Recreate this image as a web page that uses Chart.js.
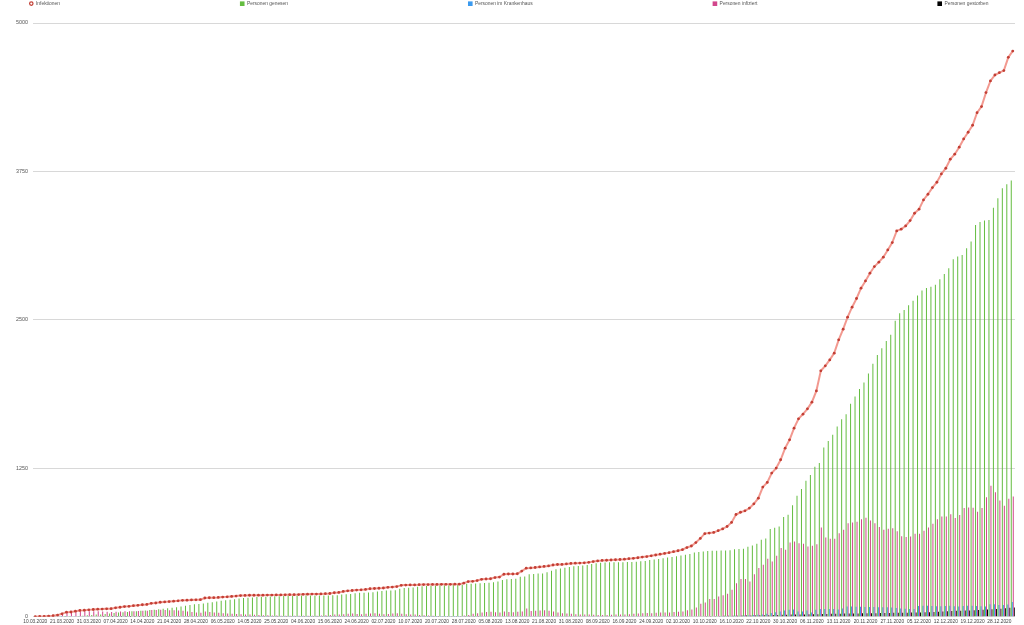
<!DOCTYPE html>
<html>
<head>
<meta charset="utf-8">
<title>Infektionen 2020</title>
<script src="https://cdn.jsdelivr.net/npm/chart.js@4.4.1/dist/chart.umd.min.js"></script>
<style>
    html, body { margin: 0; padding: 0; background: #fff; }
    #wrap { position: relative; width: 1024px; height: 625px; }
</style>
</head>
<body>
<div id="wrap"><canvas id="infektionChart"></canvas></div>
<script>
// Meldetage (ohne Jahr)
const dates = [
    '10.03','12.03','14.03','16.03','18.03','19.03',
    '21.03','23.03','25.03','26.03','27.03','30.03',
    '31.03','01.04','02.04','03.04','04.04','06.04',
    '07.04','08.04','09.04','10.04','11.04','13.04',
    '14.04','15.04','16.04','17.04','18.04','20.04',
    '21.04','22.04','23.04','24.04','25.04','27.04',
    '28.04','29.04','30.04','02.05','04.05','05.05',
    '06.05','07.05','08.05','09.05','11.05','12.05',
    '14.05','15.05','18.05','19.05','20.05','22.05',
    '25.05','26.05','27.05','28.05','29.05','02.06',
    '04.06','05.06','08.06','09.06','10.06','12.06',
    '15.06','16.06','17.06','18.06','19.06','22.06',
    '24.06','25.06','26.06','29.06','30.06','01.07',
    '02.07','03.07','06.07','07.07','08.07','09.07',
    '10.07','13.07','14.07','15.07','16.07','17.07',
    '20.07','21.07','22.07','23.07','24.07','27.07',
    '28.07','29.07','30.07','31.07','03.08','04.08',
    '05.08','06.08','07.08','10.08','11.08','12.08',
    '13.08','14.08','17.08','18.08','19.08','20.08',
    '21.08','24.08','25.08','26.08','27.08','28.08',
    '31.08','01.09','02.09','03.09','04.09','07.09',
    '08.09','09.09','10.09','11.09','14.09','15.09',
    '16.09','17.09','18.09','21.09','22.09','23.09',
    '24.09','25.09','28.09','29.09','30.09','01.10',
    '02.10','05.10','06.10','07.10','08.10','09.10',
    '10.10','11.10','12.10','13.10','14.10','15.10',
    '16.10','17.10','18.10','19.10','20.10','21.10',
    '22.10','23.10','26.10','27.10','28.10','29.10',
    '30.10','31.10','02.11','03.11','04.11','05.11',
    '06.11','07.11','09.11','10.11','11.11','12.11',
    '13.11','14.11','16.11','17.11','18.11','19.11',
    '20.11','21.11','23.11','24.11','25.11','26.11',
    '27.11','28.11','30.11','01.12','02.12','03.12',
    '05.12','07.12','08.12','09.12','10.12','11.12',
    '12.12','14.12','15.12','16.12','17.12','18.12',
    '19.12','21.12','22.12','23.12','24.12','26.12',
    '28.12','29.12','30.12','31.12'
];

const infektionen = [
    1,2,3,6,9,14,25,39,40,47,
    53,55,58,61,64,65,67,68,75,80,
    86,88,93,96,101,104,113,116,122,125,
    128,131,134,138,140,142,143,144,158,160,
    161,163,166,168,171,174,178,180,181,181,
    182,182,183,183,184,184,185,186,186,187,
    189,190,191,191,192,194,196,202,205,213,
    218,221,225,227,230,236,238,240,242,248,
    250,254,265,267,268,268,270,271,271,272,
    272,273,273,273,274,274,283,296,298,305,
    315,318,320,330,334,358,360,360,362,385,
    409,411,415,420,424,428,436,440,441,445,
    449,451,452,454,458,465,470,474,476,478,
    480,482,485,489,492,497,503,507,513,520,
    527,533,540,548,556,565,583,596,625,660,
    700,705,710,725,740,760,794,861,880,892,
    915,951,999,1092,1131,1210,1252,1322,1420,1490,
    1588,1667,1706,1751,1807,1902,2071,2113,2163,2220,
    2332,2422,2523,2607,2680,2767,2828,2893,2949,2986,
    3028,3089,3151,3249,3264,3291,3336,3398,3432,3510,
    3558,3614,3659,3729,3777,3853,3895,3954,4024,4080,
    4139,4245,4296,4414,4512,4562,4582,4599,4711,4764
];

const genesen = [
    0,0,0,0,0,0,0,1,2,5,
    7,9,12,15,18,20,24,27,32,35,
    39,41,46,47,50,53,56,59,63,68,
    71,75,80,86,93,100,105,108,112,118,
    123,128,134,138,143,148,154,158,161,163,
    166,168,169,171,172,173,175,176,176,177,
    178,179,180,180,180,180,180,181,182,188,
    190,191,198,202,203,205,207,212,217,221,
    222,224,236,242,245,247,252,256,258,261,
    263,265,265,266,267,267,270,278,278,280,
    282,284,286,290,296,309,316,318,320,336,
    340,359,361,364,365,374,387,401,407,413,
    420,425,428,432,436,445,451,455,457,458,
    458,459,460,462,462,464,468,470,478,482,
    487,492,500,503,509,515,523,529,542,546,
    550,553,555,556,557,558,560,569,570,572,
    590,600,615,648,660,740,750,760,840,860,
    940,1020,1075,1145,1193,1263,1294,1425,1481,1532,
    1602,1664,1706,1793,1855,1917,1972,2048,2130,2205,
    2262,2323,2374,2492,2556,2584,2623,2662,2705,2747,
    2769,2780,2795,2843,2887,2935,3011,3033,3047,3104,
    3159,3300,3325,3336,3342,3445,3524,3608,3642,3673
];

const krankenhaus = [
    0,0,0,0,0,0,1,1,2,2,
    2,3,3,4,4,5,5,5,6,6,
    6,6,5,5,5,5,4,4,4,4,
    3,3,3,3,3,2,2,2,2,2,
    2,2,2,2,2,2,2,1,1,1,
    1,1,1,1,1,1,1,1,1,1,
    1,1,1,1,1,1,1,1,1,1,
    1,1,1,1,1,1,1,1,1,1,
    1,1,1,1,1,1,1,1,1,1,
    1,1,1,1,1,1,2,2,2,2,
    2,2,2,2,2,2,2,2,2,2,
    2,2,2,2,2,2,2,2,2,2,
    2,2,2,2,2,2,2,2,2,2,
    2,2,2,2,2,3,3,3,3,3,
    3,3,3,3,3,3,3,4,4,4,
    4,4,5,5,6,6,7,8,9,10,
    12,15,17,20,25,31,38,45,52,58,
    62,45,45,53,36,60,65,65,66,65,
    62,70,87,86,85,84,82,82,82,80,
    80,80,78,73,70,68,66,65,90,92,
    92,90,88,88,90,92,88,87,90,92,
    92,90,88,87,105,106,100,98,104,125
];

const infiziert = [
    1,2,3,6,9,14,25,38,38,42,
    46,46,46,46,46,44,42,40,42,44,
    46,46,46,48,50,50,56,56,58,56,
    55,54,52,50,45,40,36,34,44,40,
    36,33,30,28,26,24,22,20,18,16,
    14,12,12,10,10,9,8,8,8,8,
    8,8,8,8,10,12,14,18,20,22,
    25,28,24,22,26,28,30,25,22,24,
    28,30,26,22,20,18,15,12,10,8,
    6,5,5,4,4,5,10,15,25,30,
    35,40,42,38,36,45,40,38,42,45,
    70,48,50,52,55,50,45,35,30,28,
    25,22,20,18,18,16,15,15,15,16,
    18,18,20,22,25,28,30,32,30,33,
    35,36,35,40,42,45,55,62,78,109,
    120,149,149,171,182,194,227,283,317,317,
    297,359,410,438,488,466,513,578,564,625,
    634,620,614,592,598,610,752,668,657,657,
    704,732,788,794,800,822,833,811,788,755,
    732,741,746,721,679,671,676,699,699,724,
    752,783,822,844,844,864,831,856,915,920,
    917,884,915,1007,1103,1049,979,934,993,1013
];

const gestorben = [
    0,0,0,0,0,0,0,0,0,0,
    0,0,0,0,0,1,1,1,1,1,
    1,1,1,1,1,1,1,1,1,1,
    2,2,2,2,2,2,2,2,2,2,
    2,2,2,2,2,2,2,2,2,2,
    2,2,2,2,2,2,2,2,2,2,
    3,3,3,3,3,3,3,3,3,3,
    3,3,3,3,3,3,3,3,3,3,
    3,3,3,3,3,3,3,3,3,3,
    3,3,3,3,3,3,3,3,3,3,
    4,4,4,4,4,4,4,4,4,4,
    4,4,4,4,4,4,4,4,4,4,
    4,4,4,4,4,4,4,4,4,4,
    5,5,5,5,5,5,5,5,5,5,
    5,5,5,5,5,5,5,5,5,5,
    6,6,7,7,8,8,9,9,10,10,
    11,11,12,12,13,14,15,16,17,18,
    18,19,20,21,22,22,23,24,25,26,
    26,27,27,28,28,29,29,30,30,31,
    31,32,33,33,34,34,35,36,36,37,
    38,40,42,44,46,48,50,51,52,53,
    55,57,59,61,63,65,68,71,75,78
];

const yTicks = [0, 1250, 2500, 3750, 5000];
const labelEvery = 6;

const labels = dates.map(d => d + '.2020');
const fontFamily = '"Liberation Sans", Arial, sans-serif';

// Legende oben, weit auseinandergezogen
const topLegend = {
    id: 'topLegend',
    afterDraw(chart) {
        const ctx = chart.ctx;
        ctx.save();
        ctx.font = '4.9px ' + fontFamily;
        ctx.textBaseline = 'middle';
        ctx.textAlign = 'left';
        let x = 29;
        const y = 3.6;
        chart.data.datasets.forEach(ds => {
            if (ds.type === 'line') {
                ctx.beginPath();
                ctx.arc(x + 2.3, y, 1.7, 0, Math.PI * 2);
                ctx.fillStyle = '#fff';
                ctx.fill();
                ctx.lineWidth = 1.2;
                ctx.strokeStyle = ds.pointBackgroundColor;
                ctx.stroke();
            } else {
                ctx.fillStyle = ds.backgroundColor;
                ctx.fillRect(x, y - 2.2, 4.6, 4.6);
            }
            ctx.fillStyle = '#555';
            ctx.fillText(ds.label, x + 7, y);
            x += 7 + ctx.measureText(ds.label).width + 180;
        });
        ctx.restore();
    }
};

function barSet(label, data, color) {
    return {
        type: 'bar',
        label: label,
        data: data,
        backgroundColor: color,
        borderWidth: 0,
        categoryPercentage: 0.9,
        barPercentage: 1.0,
        order: 1
    };
}

const ctx = document.getElementById('infektionChart').getContext('2d');
new Chart(ctx, {
    data: {
        labels: labels,
        datasets: [
            {
                type: 'line',
                label: 'Infektionen',
                data: infektionen,
                borderColor: 'rgba(240,135,125,0.85)',
                borderWidth: 2,
                pointRadius: 1.4,
                pointBorderWidth: 0,
                pointBackgroundColor: '#c23f35',
                tension: 0,
                order: 0
            },
            barSet('Personen genesen', genesen, '#64bd40'),
            barSet('Personen im Krankenhaus', krankenhaus, '#3b9aef'),
            barSet('Personen infiziert', infiziert, '#d2468c'),
            barSet('Personen gestorben', gestorben, '#000000')
        ]
    },
    options: {
        responsive: true,
        maintainAspectRatio: false,
        animation: false,
        layout: { padding: { top: 23, right: 9, left: 0, bottom: 0 } },
        plugins: {
            legend: { display: false },
            tooltip: { enabled: false }
        },
        scales: {
            x: {
                offset: true,
                grid: { display: false, drawTicks: false },
                border: { display: false },
                ticks: {
                    autoSkip: false,
                    maxRotation: 0,
                    minRotation: 0,
                    padding: 2.5,
                    color: '#444',
                    font: { family: fontFamily, size: 4.8 },
                    callback: function(value, index) {
                        return index % labelEvery === 0 ? this.getLabelForValue(value) : '';
                    }
                },
                afterFit: function(scale) { scale.height = 8; }
            },
            y: {
                min: yTicks[0],
                max: yTicks[yTicks.length - 1],
                grid: { color: '#d8d8d8', lineWidth: 1, drawTicks: false },
                border: { display: false },
                afterBuildTicks: function(scale) {
                    scale.ticks = yTicks.map(v => ({ value: v }));
                },
                ticks: {
                    padding: 5,
                    color: '#555',
                    font: { family: fontFamily, size: 5.4 },
                    callback: function(value) { return String(value); }
                },
                afterFit: function(scale) { scale.width = 33; }
            }
        }
    },
    plugins: [topLegend]
});
</script>
</body>
</html>
